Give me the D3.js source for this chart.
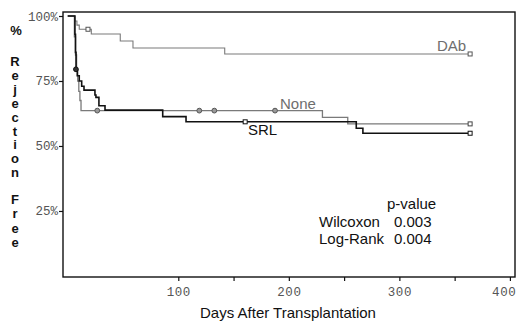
<!DOCTYPE html>
<html>
<head>
<meta charset="utf-8">
<script src="https://cdn.jsdelivr.net/npm/d3@7/dist/d3.min.js"></script>
<style>
  html, body { margin: 0; padding: 0; background: #fff; }
  svg { display: block; }
</style>
</head>
<body>
<svg id="chart" width="520" height="322"></svg>
<script>
// Kaplan-Meier rejection-free survival by treatment group
const dabDays  = [0, 6.2, 8.3, 10.4, 21.3, 47.5, 59, 142, 364];
const dabSurv  = [1.0, 0.981, 0.965, 0.949, 0.931, 0.904, 0.877, 0.854, 0.854];
const dabCensorDays = [18.3, 364];
const dabCensorSurv = [0.949, 0.854];

const noneDays = [0, 6, 7, 8, 9, 10, 11, 12, 230.4, 253.3, 364];
const noneSurv = [1.0, 0.92, 0.85, 0.79, 0.75, 0.71, 0.675, 0.636, 0.610, 0.585, 0.585];
const noneCensorDays = [26.7, 119, 132.6, 187.5];
const noneCensorSurv = [0.636, 0.636, 0.636, 0.636];
const noneEndDay = [364];
const noneEndSurv = [0.585];

const srlDays = [0, 6.5, 7, 7.5, 8.6, 10.4, 12.6, 14.7, 24.6, 25.5, 28.2, 33.7, 85.9, 107, 261, 267, 364];
const srlSurv = [1.0, 0.93, 0.86, 0.795, 0.77, 0.75, 0.73, 0.715, 0.696, 0.687, 0.655, 0.638, 0.613, 0.593, 0.568, 0.549, 0.549];
const srlCircleDays = [7.4];
const srlCircleSurv = [0.795];
const srlCensorDays = [160.5, 364];
const srlCensorSurv = [0.593, 0.549];

const xTicks = [100, 150, 200, 250, 300, 350, 400];
const xTickLabels = ["100", "", "200", "", "300", "", "400"];
const yTicks = [0.25, 0.5, 0.75, 1.0];
const yTickLabels = ["25%", "50%", "75%", "100%"];

const yTitleTop = ["%"];
const yTitleMid = "Rejection".split("");
const yTitleLow = "Free".split("");

const svg = d3.select("#chart");

const x = d3.scaleLinear().domain([-4.3, 404.6]).range([63, 515]);
const y = d3.scaleLinear().domain([-0.004, 1.0154]).range([277, 12]);

// plot frame
svg.append("rect")
  .attr("x", x(-4.3)).attr("y", y(1.0154))
  .attr("width", x(404.6) - x(-4.3)).attr("height", y(-0.004) - y(1.0154))
  .attr("fill", "none").attr("stroke", "#111").attr("stroke-width", 1.4);

// axes
const xAxis = d3.axisBottom(x)
  .tickValues(xTicks)
  .tickSize(4)
  .tickSizeOuter(0)
  .tickFormat((d, i) => xTickLabels[i]);
const gx = svg.append("g").attr("transform", `translate(0,${y(-0.004)})`).call(xAxis);
gx.select(".domain").remove();
gx.selectAll(".tick line").attr("stroke", "#111").attr("stroke-width", 1.2);
gx.selectAll(".tick text")
  .attr("y", 10)
  .attr("font-family", "'Liberation Mono', 'DejaVu Sans Mono', monospace")
  .attr("font-size", 12.5)
  .attr("letter-spacing", 0.6)
  .attr("fill", "#555");
// the last label sits flush against the right edge
gx.selectAll(".tick text").filter(d => d === 400)
  .attr("text-anchor", "end").attr("x", 6);

const yAxis = d3.axisLeft(y)
  .tickValues(yTicks)
  .tickSize(4)
  .tickSizeOuter(0)
  .tickFormat((d, i) => yTickLabels[i]);
const gy = svg.append("g").attr("transform", `translate(${x(-4.3)},0)`).call(yAxis);
gy.select(".domain").remove();
gy.selectAll(".tick line").attr("stroke", "#111").attr("stroke-width", 1.2);
gy.selectAll(".tick text")
  .attr("x", -5)
  .attr("font-family", "'Liberation Mono', 'DejaVu Sans Mono', monospace")
  .attr("font-size", 12.5)
  .attr("fill", "#555");

// survival step curves
const line = d3.line()
  .x(d => x(d[0]))
  .y(d => y(d[1]))
  .curve(d3.curveStepAfter);

function pairs(a, b) { return a.map((v, i) => [v, b[i]]); }

svg.append("path").datum(pairs(dabDays, dabSurv))
  .attr("d", line).attr("fill", "none").attr("stroke", "#7a7a7a").attr("stroke-width", 1.1);
svg.append("path").datum(pairs(noneDays, noneSurv))
  .attr("d", line).attr("fill", "none").attr("stroke", "#7a7a7a").attr("stroke-width", 1.3);
svg.append("path").datum(pairs(srlDays, srlSurv))
  .attr("d", line).attr("fill", "none").attr("stroke", "#111").attr("stroke-width", 1.6);

// censor marks
function squares(days, surv, color) {
  svg.selectAll(null).data(pairs(days, surv)).enter().append("rect")
    .attr("x", d => x(d[0]) - 2).attr("y", d => y(d[1]) - 2)
    .attr("width", 4).attr("height", 4)
    .attr("fill", "#fff").attr("stroke", color).attr("stroke-width", 1);
}
function circles(days, surv, color, fill) {
  svg.selectAll(null).data(pairs(days, surv)).enter().append("circle")
    .attr("cx", d => x(d[0])).attr("cy", d => y(d[1])).attr("r", 2.4)
    .attr("fill", fill).attr("stroke", color).attr("stroke-width", 1);
}
squares(dabCensorDays, dabCensorSurv, "#555");
circles(noneCensorDays, noneCensorSurv, "#555", "#999");
squares(noneEndDay, noneEndSurv, "#444");
circles(srlCircleDays, srlCircleSurv, "#111", "#333");
squares(srlCensorDays, srlCensorSurv, "#111");

// group labels
const sans = "'Liberation Sans', Arial, sans-serif";
svg.append("text").attr("x", 437).attr("y", 51).text("DAb")
  .attr("font-family", sans).attr("font-size", 15).attr("fill", "#6e6e6e");
svg.append("text").attr("x", 280).attr("y", 109).text("None")
  .attr("font-family", sans).attr("font-size", 15).attr("fill", "#6e6e6e");
svg.append("text").attr("x", 248).attr("y", 135).text("SRL")
  .attr("font-family", sans).attr("font-size", 15).attr("fill", "#111");

// test statistics
const stats = svg.append("g").attr("font-family", sans).attr("font-size", 15).attr("fill", "#111");
stats.append("text").attr("x", 387).attr("y", 209).text("p-value");
stats.append("text").attr("x", 319).attr("y", 226.5).text("Wilcoxon");
stats.append("text").attr("x", 394).attr("y", 226.5).text("0.003");
stats.append("text").attr("x", 319).attr("y", 243.5).text("Log-Rank");
stats.append("text").attr("x", 394).attr("y", 243.5).text("0.004");

// x title
svg.append("text").attr("x", 288).attr("y", 318).attr("text-anchor", "middle")
  .text("Days After Transplantation")
  .attr("font-family", sans).attr("font-size", 15).attr("fill", "#111");

// y title, stacked letters
const yt = svg.append("g").attr("font-family", sans).attr("font-size", 13)
  .attr("font-weight", "bold").attr("fill", "#111").attr("text-anchor", "middle");
yt.append("text").attr("x", 16).attr("y", 35).text(yTitleTop[0]);
yTitleMid.forEach((c, i) => yt.append("text").attr("x", 15).attr("y", 66 + i * 13.9).text(c));
yTitleLow.forEach((c, i) => yt.append("text").attr("x", 15).attr("y", 204 + i * 14.3).text(c));
</script>
</body>
</html>
